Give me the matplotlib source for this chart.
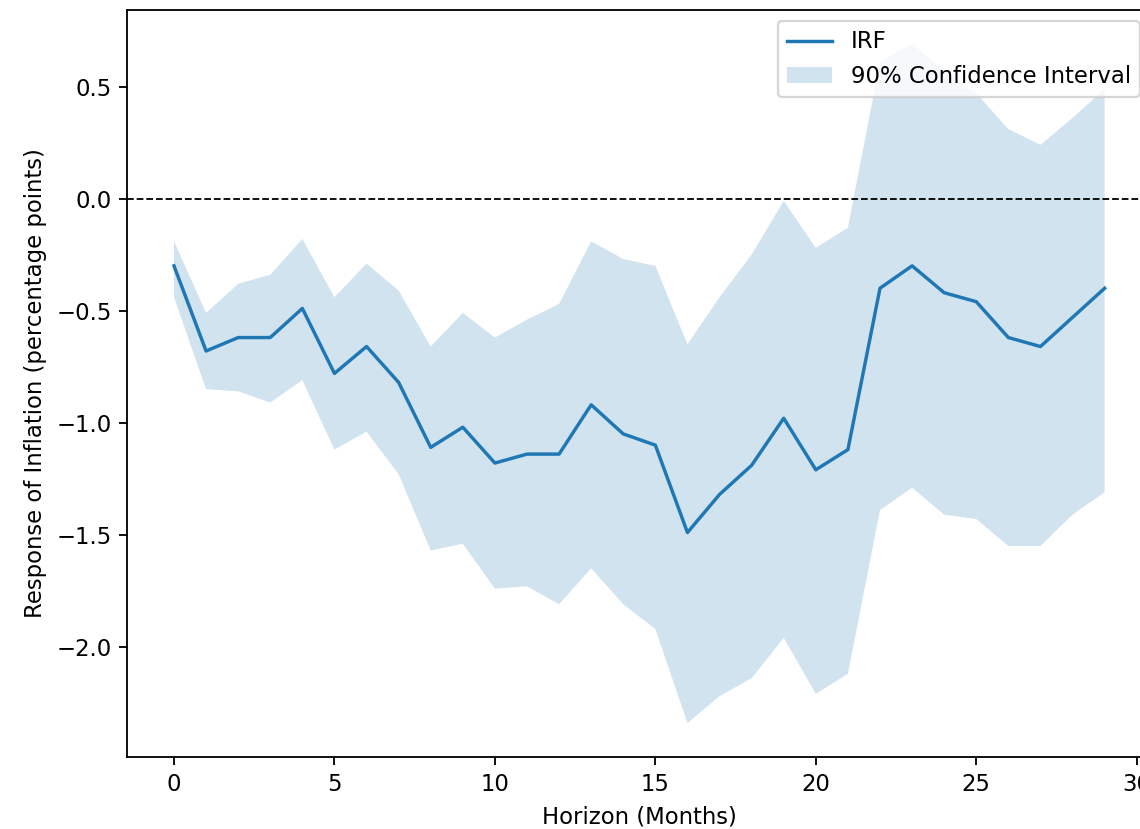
import numpy as np
import matplotlib
matplotlib.use("Agg")
import matplotlib.pyplot as plt

# --- DATA ---
horizon = np.arange(30)
irf = [-0.30, -0.68, -0.62, -0.62, -0.49, -0.78, -0.66, -0.82, -1.11, -1.02,
       -1.18, -1.14, -1.14, -0.92, -1.05, -1.10, -1.49, -1.32, -1.19, -0.98,
       -1.21, -1.12, -0.40, -0.30, -0.42, -0.46, -0.62, -0.66, -0.53, -0.40]
ci_upper = [-0.19, -0.51, -0.38, -0.34, -0.18, -0.44, -0.29, -0.41, -0.66, -0.51,
            -0.62, -0.54, -0.47, -0.19, -0.27, -0.30, -0.65, -0.44, -0.25, -0.01,
            -0.22, -0.13, 0.61, 0.69, 0.57, 0.47, 0.31, 0.24, 0.36, 0.49]
ci_lower = [-0.44, -0.85, -0.86, -0.91, -0.81, -1.12, -1.04, -1.23, -1.57, -1.54,
            -1.74, -1.73, -1.81, -1.65, -1.81, -1.92, -2.34, -2.22, -2.14, -1.96,
            -2.21, -2.12, -1.39, -1.29, -1.41, -1.43, -1.55, -1.55, -1.41, -1.31]

# --- FIGURE ---
dpi = 164
fig = plt.figure(figsize=(1140 / dpi, 829 / dpi), dpi=dpi)
# axes run past the right edge, as in the cropped reference
ax = fig.add_axes([0.1118, 1 - 757 / 829, 0.898, (757 - 10) / 829])

ax.plot(horizon, irf, label='IRF')
ax.fill_between(horizon, ci_lower, ci_upper, alpha=0.2, label='90% Confidence Interval')
ax.axhline(0, color='black', linestyle='--', linewidth=0.8)

ax.set_xlabel('Horizon (Months)')
ax.set_ylabel('Response of Inflation (percentage points)')
ax.legend(loc='upper right')

fig.savefig("out.png", dpi=dpi)
